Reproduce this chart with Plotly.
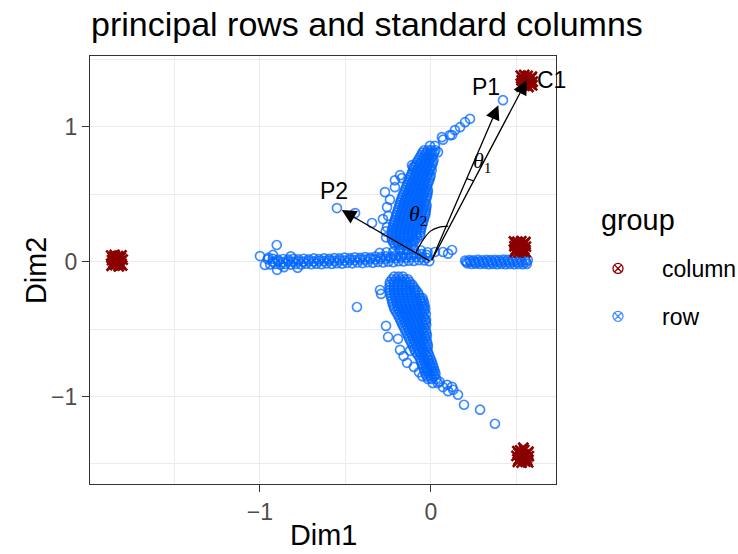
import plotly.graph_objects as go

# ---------------------------------------------------------------------------
# Row profiles (principal coordinates), grouped by the arm of the map
# ---------------------------------------------------------------------------
ROW_LEFT_ARM = [
    (-0.955, 0.018), (-0.925, 0.022), (-0.895, 0.015), (-0.865, 0.020), (-0.835, 0.016),
    (-0.805, 0.021), (-0.775, 0.017), (-0.745, 0.022), (-0.715, 0.018), (-0.685, 0.024),
    (-0.655, 0.020), (-0.625, 0.025), (-0.595, 0.021), (-0.565, 0.027), (-0.535, 0.024),
    (-0.505, 0.030), (-0.475, 0.026), (-0.445, 0.032), (-0.415, 0.028), (-0.385, 0.034),
    (-0.355, 0.031), (-0.325, 0.037), (-0.295, 0.034), (-0.265, 0.040), (-0.235, 0.038),
    (-0.205, 0.045), (-0.175, 0.043), (-0.145, 0.050), (-0.115, 0.052), (-0.085, 0.058),
    (-0.055, 0.056), (-0.025, 0.050),
    (-0.925, 0.000), (-0.895, 0.003), (-0.865, -0.002), (-0.835, 0.002), (-0.805, -0.001),
    (-0.775, 0.003), (-0.745, 0.000), (-0.715, 0.004), (-0.685, 0.002), (-0.655, 0.006),
    (-0.625, 0.004), (-0.595, 0.008), (-0.565, 0.006), (-0.535, 0.010), (-0.505, 0.009),
    (-0.475, 0.013), (-0.445, 0.012), (-0.415, 0.016), (-0.385, 0.015), (-0.355, 0.019),
    (-0.325, 0.018), (-0.295, 0.022), (-0.265, 0.022), (-0.235, 0.027), (-0.205, 0.026),
    (-0.175, 0.031), (-0.145, 0.030), (-0.115, 0.034), (-0.085, 0.036), (-0.055, 0.034),
    (-0.025, 0.028),
    (-0.940, -0.020), (-0.910, -0.016), (-0.880, -0.022), (-0.850, -0.017), (-0.820, -0.021),
    (-0.790, -0.016), (-0.760, -0.020), (-0.730, -0.015), (-0.700, -0.019), (-0.670, -0.014),
    (-0.640, -0.018), (-0.610, -0.012), (-0.580, -0.016), (-0.550, -0.011), (-0.520, -0.014),
    (-0.490, -0.008), (-0.460, -0.012), (-0.430, -0.006), (-0.400, -0.010), (-0.370, -0.004),
    (-0.340, -0.008), (-0.310, -0.002), (-0.280, -0.006), (-0.250, 0.000), (-0.220, -0.004),
    (-0.190, 0.004), (-0.160, 0.002), (-0.130, 0.008), (-0.100, 0.006), (-0.070, 0.012),
    (-0.040, 0.010), (-0.010, 0.004),
    (-0.300, 0.065), (-0.260, 0.070), (-0.220, 0.075), (-0.180, 0.080), (-0.140, 0.085),
    (-0.100, 0.090), (-0.060, 0.085), (-0.020, 0.070),
]

ROW_RIGHT_ARM = [
    (0.200, 0.008), (0.225, 0.012), (0.250, 0.010), (0.275, 0.013), (0.300, 0.011),
    (0.325, 0.014), (0.350, 0.012), (0.375, 0.014), (0.400, 0.012), (0.425, 0.015),
    (0.450, 0.013), (0.475, 0.015), (0.500, 0.013), (0.525, 0.016), (0.550, 0.014),
    (0.566, 0.012),
    (0.206, -0.002), (0.231, 0.000), (0.256, -0.003), (0.281, -0.001), (0.306, -0.003),
    (0.331, 0.000), (0.356, -0.002), (0.381, 0.000), (0.406, -0.002), (0.431, 0.000),
    (0.456, -0.002), (0.481, 0.000), (0.506, -0.002), (0.531, 0.000), (0.556, -0.002),
    (0.212, -0.012), (0.237, -0.016), (0.262, -0.014), (0.287, -0.017), (0.312, -0.015),
    (0.337, -0.018), (0.362, -0.016), (0.387, -0.018), (0.412, -0.016), (0.437, -0.019),
    (0.462, -0.017), (0.487, -0.019), (0.512, -0.017), (0.537, -0.019), (0.560, -0.016),
]

ROW_UPPER_ARM = [
    (-0.040, 0.827), (-0.018, 0.827), (0.004, 0.827), (0.026, 0.827),
    (-0.050, 0.809), (-0.027, 0.809), (-0.004, 0.809), (0.018, 0.809),
    (-0.058, 0.790), (-0.035, 0.790), (-0.012, 0.790), (0.011, 0.790),
    (-0.066, 0.772), (-0.043, 0.772), (-0.020, 0.772), (0.004, 0.772),
    (-0.076, 0.753), (-0.053, 0.753), (-0.030, 0.753), (-0.007, 0.753), (0.015, 0.753),
    (-0.083, 0.735), (-0.060, 0.735), (-0.036, 0.735), (-0.012, 0.735), (0.010, 0.735),
    (-0.090, 0.716), (-0.066, 0.716), (-0.042, 0.716), (-0.018, 0.716), (0.006, 0.716),
    (-0.098, 0.698), (-0.074, 0.698), (-0.050, 0.698), (-0.026, 0.698), (-0.002, 0.698),
    (-0.105, 0.679), (-0.082, 0.679), (-0.058, 0.679), (-0.034, 0.679), (-0.010, 0.679), (0.004, 0.679),
    (-0.111, 0.661), (-0.087, 0.661), (-0.063, 0.661), (-0.039, 0.661), (-0.015, 0.661),
    (-0.117, 0.642), (-0.093, 0.642), (-0.070, 0.642), (-0.046, 0.642), (-0.022, 0.642), (-0.002, 0.642),
    (-0.123, 0.624), (-0.099, 0.624), (-0.075, 0.624), (-0.051, 0.624), (-0.027, 0.624), (-0.006, 0.624),
    (-0.129, 0.605), (-0.105, 0.605), (-0.082, 0.605), (-0.058, 0.605), (-0.034, 0.605), (-0.010, 0.605),
    (-0.135, 0.587), (-0.111, 0.587), (-0.087, 0.587), (-0.063, 0.587), (-0.039, 0.587), (-0.016, 0.587),
    (-0.140, 0.568), (-0.117, 0.568), (-0.093, 0.568), (-0.070, 0.568), (-0.046, 0.568), (-0.022, 0.568),
    (-0.146, 0.550), (-0.122, 0.550), (-0.098, 0.550), (-0.074, 0.550), (-0.050, 0.550), (-0.026, 0.550),
    (-0.152, 0.531), (-0.128, 0.531), (-0.105, 0.531), (-0.082, 0.531), (-0.058, 0.531), (-0.034, 0.531),
    (-0.018, 0.531),
    (-0.158, 0.513), (-0.134, 0.513), (-0.110, 0.513), (-0.086, 0.513), (-0.062, 0.513), (-0.038, 0.513),
    (-0.020, 0.513),
    (-0.164, 0.494), (-0.140, 0.494), (-0.116, 0.494), (-0.092, 0.494), (-0.068, 0.494), (-0.044, 0.494),
    (-0.022, 0.494),
    (-0.170, 0.476), (-0.146, 0.476), (-0.122, 0.476), (-0.098, 0.476), (-0.074, 0.476), (-0.050, 0.476),
    (-0.026, 0.476),
    (-0.175, 0.457), (-0.151, 0.457), (-0.127, 0.457), (-0.103, 0.457), (-0.079, 0.457), (-0.055, 0.457),
    (-0.030, 0.457),
    (-0.180, 0.439), (-0.156, 0.439), (-0.132, 0.439), (-0.108, 0.439), (-0.084, 0.439), (-0.060, 0.439),
    (-0.036, 0.439),
    (-0.184, 0.420), (-0.160, 0.420), (-0.136, 0.420), (-0.112, 0.420), (-0.088, 0.420), (-0.064, 0.420),
    (-0.040, 0.420), (-0.026, 0.420),
    (-0.189, 0.402), (-0.165, 0.402), (-0.141, 0.402), (-0.117, 0.402), (-0.093, 0.402), (-0.069, 0.402),
    (-0.045, 0.402), (-0.028, 0.402),
    (-0.193, 0.383), (-0.169, 0.383), (-0.145, 0.383), (-0.121, 0.383), (-0.097, 0.383), (-0.073, 0.383),
    (-0.049, 0.383), (-0.030, 0.383),
    (-0.198, 0.365), (-0.174, 0.365), (-0.150, 0.365), (-0.126, 0.365), (-0.102, 0.365), (-0.078, 0.365),
    (-0.054, 0.365), (-0.032, 0.365),
    (-0.202, 0.346), (-0.178, 0.346), (-0.154, 0.346), (-0.130, 0.346), (-0.106, 0.346), (-0.082, 0.346),
    (-0.058, 0.346), (-0.034, 0.346),
    (-0.207, 0.328), (-0.183, 0.328), (-0.159, 0.328), (-0.135, 0.328), (-0.111, 0.328), (-0.087, 0.328),
    (-0.063, 0.328), (-0.040, 0.328),
    (-0.211, 0.309), (-0.187, 0.309), (-0.163, 0.309), (-0.139, 0.309), (-0.115, 0.309), (-0.091, 0.309),
    (-0.067, 0.309), (-0.043, 0.309),
    (-0.216, 0.290), (-0.192, 0.290), (-0.168, 0.290), (-0.144, 0.290), (-0.120, 0.290), (-0.096, 0.290),
    (-0.072, 0.290), (-0.048, 0.290),
    (-0.220, 0.272), (-0.196, 0.272), (-0.172, 0.272), (-0.148, 0.272), (-0.124, 0.272), (-0.100, 0.272),
    (-0.076, 0.272), (-0.052, 0.272),
    (-0.224, 0.253), (-0.200, 0.253), (-0.176, 0.253), (-0.152, 0.253), (-0.128, 0.253), (-0.104, 0.253),
    (-0.080, 0.253), (-0.056, 0.253),
    (-0.228, 0.235), (-0.204, 0.235), (-0.180, 0.235), (-0.156, 0.235), (-0.132, 0.235), (-0.108, 0.235),
    (-0.084, 0.235), (-0.060, 0.235),
    (-0.229, 0.216), (-0.205, 0.216), (-0.181, 0.216), (-0.157, 0.216), (-0.133, 0.216), (-0.109, 0.216),
    (-0.085, 0.216), (-0.062, 0.216),
    (-0.230, 0.198), (-0.206, 0.198), (-0.182, 0.198), (-0.158, 0.198), (-0.134, 0.198), (-0.110, 0.198),
    (-0.086, 0.198), (-0.064, 0.198),
    (-0.229, 0.180), (-0.205, 0.180), (-0.181, 0.180), (-0.157, 0.180), (-0.133, 0.180), (-0.109, 0.180),
    (-0.080, 0.180),
    (-0.228, 0.161), (-0.204, 0.161), (-0.180, 0.161), (-0.156, 0.161), (-0.132, 0.161), (-0.108, 0.161),
    (-0.094, 0.161),
    (-0.220, 0.143), (-0.196, 0.143), (-0.172, 0.143), (-0.148, 0.143), (-0.124, 0.143), (-0.102, 0.143),
    (-0.210, 0.125), (-0.186, 0.125), (-0.162, 0.125), (-0.138, 0.125), (-0.114, 0.125),
    (-0.185, 0.090), (-0.160, 0.090), (-0.135, 0.090),
]

ROW_LOWER_ARM = [
    (-0.215, -0.110), (-0.190, -0.110), (-0.165, -0.110),
    (-0.228, -0.130), (-0.204, -0.130), (-0.180, -0.130), (-0.156, -0.130), (-0.135, -0.130),
    (-0.240, -0.150), (-0.216, -0.150), (-0.192, -0.150), (-0.168, -0.150), (-0.144, -0.150), (-0.125, -0.150),
    (-0.241, -0.170), (-0.217, -0.170), (-0.193, -0.170), (-0.169, -0.170), (-0.145, -0.170), (-0.122, -0.170),
    (-0.110, -0.170),
    (-0.242, -0.190), (-0.218, -0.190), (-0.194, -0.190), (-0.170, -0.190), (-0.146, -0.190), (-0.122, -0.190),
    (-0.100, -0.190),
    (-0.241, -0.210), (-0.217, -0.210), (-0.193, -0.210), (-0.169, -0.210), (-0.145, -0.210), (-0.121, -0.210),
    (-0.098, -0.210), (-0.088, -0.210),
    (-0.240, -0.230), (-0.216, -0.230), (-0.192, -0.230), (-0.168, -0.230), (-0.144, -0.230), (-0.120, -0.230),
    (-0.096, -0.230), (-0.076, -0.230),
    (-0.236, -0.250), (-0.212, -0.250), (-0.188, -0.250), (-0.164, -0.250), (-0.140, -0.250), (-0.116, -0.250),
    (-0.092, -0.250), (-0.070, -0.250),
    (-0.232, -0.270), (-0.208, -0.270), (-0.184, -0.270), (-0.160, -0.270), (-0.136, -0.270), (-0.112, -0.270),
    (-0.088, -0.270), (-0.064, -0.270), (-0.050, -0.270),
    (-0.228, -0.290), (-0.204, -0.290), (-0.180, -0.290), (-0.156, -0.290), (-0.132, -0.290), (-0.108, -0.290),
    (-0.084, -0.290), (-0.060, -0.290), (-0.045, -0.290),
    (-0.224, -0.310), (-0.200, -0.310), (-0.176, -0.310), (-0.152, -0.310), (-0.128, -0.310), (-0.104, -0.310),
    (-0.080, -0.310), (-0.056, -0.310), (-0.040, -0.310),
    (-0.219, -0.330), (-0.195, -0.330), (-0.171, -0.330), (-0.147, -0.330), (-0.123, -0.330), (-0.099, -0.330),
    (-0.075, -0.330), (-0.051, -0.330), (-0.037, -0.330),
    (-0.214, -0.350), (-0.190, -0.350), (-0.166, -0.350), (-0.142, -0.350), (-0.118, -0.350), (-0.094, -0.350),
    (-0.070, -0.350), (-0.046, -0.350), (-0.034, -0.350),
    (-0.205, -0.370), (-0.181, -0.370), (-0.157, -0.370), (-0.133, -0.370), (-0.109, -0.370), (-0.085, -0.370),
    (-0.061, -0.370), (-0.040, -0.370),
    (-0.196, -0.390), (-0.172, -0.390), (-0.148, -0.390), (-0.124, -0.390), (-0.100, -0.390), (-0.076, -0.390),
    (-0.052, -0.390), (-0.030, -0.390),
    (-0.188, -0.410), (-0.164, -0.410), (-0.140, -0.410), (-0.116, -0.410), (-0.092, -0.410), (-0.068, -0.410),
    (-0.044, -0.410),
    (-0.180, -0.430), (-0.156, -0.430), (-0.132, -0.430), (-0.108, -0.430), (-0.084, -0.430), (-0.060, -0.430),
    (-0.036, -0.430), (-0.029, -0.430),
    (-0.173, -0.450), (-0.149, -0.450), (-0.125, -0.450), (-0.101, -0.450), (-0.077, -0.450), (-0.053, -0.450),
    (-0.030, -0.450),
    (-0.166, -0.470), (-0.142, -0.470), (-0.118, -0.470), (-0.094, -0.470), (-0.070, -0.470), (-0.046, -0.470),
    (-0.028, -0.470),
    (-0.158, -0.490), (-0.134, -0.490), (-0.110, -0.490), (-0.086, -0.490), (-0.062, -0.490), (-0.038, -0.490),
    (-0.150, -0.510), (-0.126, -0.510), (-0.102, -0.510), (-0.078, -0.510), (-0.054, -0.510), (-0.030, -0.510),
    (-0.142, -0.530), (-0.118, -0.530), (-0.094, -0.530), (-0.070, -0.530), (-0.046, -0.530), (-0.027, -0.530),
    (-0.134, -0.550), (-0.110, -0.550), (-0.086, -0.550), (-0.062, -0.550), (-0.038, -0.550), (-0.024, -0.550),
    (-0.127, -0.570), (-0.103, -0.570), (-0.079, -0.570), (-0.055, -0.570), (-0.031, -0.570),
    (-0.120, -0.590), (-0.096, -0.590), (-0.072, -0.590), (-0.048, -0.590), (-0.024, -0.590),
    (-0.112, -0.610), (-0.088, -0.610), (-0.064, -0.610), (-0.040, -0.610), (-0.020, -0.610),
    (-0.104, -0.630), (-0.080, -0.630), (-0.056, -0.630), (-0.032, -0.630), (-0.018, -0.630),
    (-0.097, -0.650), (-0.073, -0.650), (-0.049, -0.650), (-0.025, -0.650),
    (-0.090, -0.670), (-0.066, -0.670), (-0.042, -0.670), (-0.018, -0.670),
    (-0.078, -0.690), (-0.055, -0.690), (-0.032, -0.690), (-0.012, -0.690),
    (-0.066, -0.710), (-0.044, -0.710), (-0.022, -0.710), (-0.006, -0.710),
    (-0.061, -0.730), (-0.039, -0.730), (-0.017, -0.730), (0.000, -0.730),
    (-0.056, -0.750), (-0.034, -0.750), (-0.012, -0.750), (0.006, -0.750),
    (-0.050, -0.770), (-0.028, -0.770), (-0.006, -0.770), (0.011, -0.770),
    (-0.044, -0.790), (-0.022, -0.790), (0.000, -0.790), (0.016, -0.790),
    (-0.038, -0.810), (-0.016, -0.810), (0.006, -0.810), (0.021, -0.810),
    (-0.032, -0.830), (-0.010, -0.830), (0.012, -0.830), (0.026, -0.830),
    (-0.025, -0.850), (-0.003, -0.850), (0.020, -0.850),
    (-0.018, -0.870), (0.004, -0.870), (0.030, -0.870),
    (0.010, -0.900), (0.040, -0.900),
]

ROW_SCATTER = [
    # tip of the upper arm
    (0.041, 0.813), (0.064, 0.924), (0.111, 0.939), (0.140, 0.976), (0.170, 0.998),
    (0.199, 1.035), (0.228, 1.060), (0.123, 0.940), (0.070, 0.905), (0.023, 0.860),
    (-0.006, 0.860), (0.421, 1.198),
    # left fringe of the upper arm
    (-0.269, 0.516), (-0.211, 0.553), (-0.211, 0.604), (-0.181, 0.642), (-0.170, 0.620),
    (-0.105, 0.701), (-0.111, 0.716), (-0.257, 0.405), (-0.281, 0.316), (-0.345, 0.287),
    (-0.444, 0.361), (-0.257, 0.257), (-0.550, 0.398), (-0.240, 0.460), (-0.250, 0.340),
    (-0.265, 0.225), (-0.262, 0.180),
    # near the origin, right side
    (0.070, 0.072), (0.123, 0.087), (0.023, 0.072), (0.100, 0.060),
    # far end of the left arm
    (-1.000, 0.042), (-0.902, 0.124), (-0.971, -0.024), (-0.924, 0.050), (-0.900, -0.060),
    (-0.950, 0.030), (-0.860, -0.040), (-0.820, 0.040), (-0.780, -0.045),
    # tail of the lower arm
    (0.094, -0.913), (0.123, -0.928), (0.158, -0.987), (0.193, -1.061), (0.287, -1.098),
    (0.374, -1.202), (0.070, -0.930), (0.050, -0.890), (0.100, -0.960), (0.130, -0.950),
    # left fringe of the lower arm
    (-0.433, -0.336), (-0.292, -0.239), (-0.263, -0.476), (-0.251, -0.558), (-0.193, -0.572),
    (-0.181, -0.654), (-0.123, -0.661), (-0.298, -0.210), (-0.160, -0.700), (-0.140, -0.750),
    (-0.100, -0.780), (-0.070, -0.820), (-0.050, -0.850),
]

# ---------------------------------------------------------------------------
# Column vertices (standard coordinates), four tight clusters
# ---------------------------------------------------------------------------
COLUMN_POINTS = [
    (-1.870, 0.045), (-1.850, 0.050), (-1.830, 0.042), (-1.810, 0.047), (-1.865, 0.012),
    (-1.842, 0.018), (-1.822, 0.008), (-1.803, 0.015), (-1.868, -0.030), (-1.846, -0.025),
    (-1.826, -0.035), (-1.806, -0.028), (-1.855, -0.005), (-1.818, -0.010), (-1.838, 0.030),
    (-1.860, 0.030), (-1.815, 0.030), (-1.860, -0.018), (-1.815, -0.018), (-1.838, -0.012),
    (-1.838, 0.000), (-1.850, 0.035), (-1.826, -0.020),
    (0.525, 1.380), (0.545, 1.385), (0.565, 1.378), (0.590, 1.372), (0.530, 1.345),
    (0.552, 1.350), (0.575, 1.340), (0.595, 1.336), (0.528, 1.300), (0.548, 1.305),
    (0.570, 1.296), (0.592, 1.308), (0.540, 1.322), (0.582, 1.318), (0.560, 1.360),
    (0.535, 1.365), (0.585, 1.362), (0.535, 1.318), (0.585, 1.325), (0.560, 1.330),
    (0.560, 1.312), (0.548, 1.340), (0.572, 1.355),
    (0.485, 0.150), (0.505, 0.148), (0.528, 0.152), (0.552, 0.146), (0.488, 0.115),
    (0.510, 0.120), (0.532, 0.108), (0.555, 0.112), (0.490, 0.072), (0.512, 0.068),
    (0.535, 0.075), (0.553, 0.070), (0.500, 0.090), (0.542, 0.095), (0.520, 0.130),
    (0.495, 0.135), (0.545, 0.132), (0.495, 0.088), (0.546, 0.088), (0.520, 0.100),
    (0.520, 0.085), (0.508, 0.108), (0.532, 0.125),
    (0.505, -1.405), (0.522, -1.400), (0.545, -1.398), (0.570, -1.410), (0.500, -1.440),
    (0.525, -1.435), (0.548, -1.448), (0.572, -1.442), (0.508, -1.485), (0.530, -1.490),
    (0.552, -1.482), (0.568, -1.488), (0.515, -1.465), (0.560, -1.460), (0.540, -1.380),
    (0.512, -1.420), (0.562, -1.422), (0.512, -1.472), (0.562, -1.475), (0.538, -1.455),
    (0.538, -1.470), (0.528, -1.418), (0.550, -1.430),
]

# Highlighted vectors from the origin and their labels
VECTOR_NAMES = ["C1", "P1", "P2"]
VECTOR_END_X = [0.560, 0.394, -0.522]
VECTOR_END_Y = [1.346, 1.161, 0.383]
VECTOR_LABEL_X = [0.702, 0.322, -0.567]
VECTOR_LABEL_Y = [1.346, 1.294, 0.522]

# Angle marks between the vectors
ANGLE_LABELS = ["<i>θ</i><sub>1</sub>", "<i>θ</i><sub>2</sub>"]
ANGLE_LABEL_X = [0.304, -0.076]
ANGLE_LABEL_Y = [0.739, 0.346]
ARC1_X = [0.209, 0.229, 0.250]
ARC1_Y = [0.616, 0.608, 0.600]
ARC2_X = [-0.088, -0.046, -0.005, 0.045, 0.101]
ARC2_Y = [0.070, 0.162, 0.225, 0.255, 0.264]

X_RANGE = [-1.994, 0.731]
Y_RANGE = [-1.649, 1.526]

SANS = "Liberation Sans, Arial, Helvetica, sans-serif"
SERIF = "Liberation Serif, Times New Roman, serif"
ROW_COLOR = "rgba(0,102,255,0.75)"
COL_COLOR = "#8B0000"

rows = ROW_LEFT_ARM + ROW_RIGHT_ARM + ROW_UPPER_ARM + ROW_LOWER_ARM + ROW_SCATTER

fig = go.Figure()

# rows: open circles
fig.add_trace(go.Scatter(
    x=[p[0] for p in rows], y=[p[1] for p in rows],
    mode="markers", showlegend=False, hoverinfo="skip",
    marker=dict(symbol="circle-open", size=9, color=ROW_COLOR, line=dict(width=1.7, color=ROW_COLOR)),
))

# columns: crosses
fig.add_trace(go.Scatter(
    x=[p[0] for p in COLUMN_POINTS], y=[p[1] for p in COLUMN_POINTS],
    mode="markers", showlegend=False, hoverinfo="skip",
    marker=dict(symbol="x-thin-open", size=10, color=COL_COLOR, line=dict(width=2.6, color=COL_COLOR)),
))

# angle arcs
for ax_, ay_ in ((ARC1_X, ARC1_Y), (ARC2_X, ARC2_Y)):
    fig.add_trace(go.Scatter(
        x=ax_, y=ay_, mode="lines", showlegend=False, hoverinfo="skip",
        line=dict(color="black", width=1.2, shape="spline"),
    ))

# legend keys (combined circle + cross glyph)
for name, color in (("column", COL_COLOR), ("row", ROW_COLOR)):
    fig.add_trace(go.Scatter(
        x=[None], y=[None], mode="markers", name=name, legendgroup=name,
        marker=dict(symbol="circle-x-open", size=10, color=color, line=dict(width=1.3, color=color)),
    ))

annotations = []
for vx, vy in zip(VECTOR_END_X, VECTOR_END_Y):
    annotations.append(dict(
        x=vx, y=vy, ax=0, ay=0, xref="x", yref="y", axref="x", ayref="y",
        text="", showarrow=True, arrowhead=2, arrowsize=2.2, arrowwidth=1.3,
        arrowcolor="black", standoff=0,
    ))
for name, lx, ly in zip(VECTOR_NAMES, VECTOR_LABEL_X, VECTOR_LABEL_Y):
    annotations.append(dict(
        x=lx, y=ly, xref="x", yref="y", text=name, showarrow=False,
        font=dict(family=SANS, size=23, color="black"), xanchor="center", yanchor="middle",
    ))
for lab, lx, ly in zip(ANGLE_LABELS, ANGLE_LABEL_X, ANGLE_LABEL_Y):
    annotations.append(dict(
        x=lx, y=ly, xref="x", yref="y", text=lab, showarrow=False,
        font=dict(family=SERIF, size=22, color="black"), xanchor="center", yanchor="middle",
    ))

# axis titles and legend title
annotations += [
    dict(text="Dim1", x=0.5, y=-0.12, xref="paper", yref="paper", showarrow=False,
         font=dict(family=SANS, size=28.8, color="black"), xanchor="center", yanchor="middle"),
    dict(text="Dim2", x=-0.116, y=0.5, xref="paper", yref="paper", showarrow=False, textangle=-90,
         font=dict(family=SANS, size=28.8, color="black"), xanchor="center", yanchor="middle"),
    dict(text="group", x=1.0923, y=0.617, xref="paper", yref="paper", showarrow=False,
         font=dict(family=SANS, size=28.8, color="black"), xanchor="left", yanchor="middle"),
]

axis_common = dict(
    showgrid=True, gridcolor="#EBEBEB", gridwidth=1.4, zeroline=False,
    showline=True, mirror=True, linecolor="#333333", linewidth=1.4,
    ticks="outside", ticklen=7, tickwidth=1.3, tickcolor="#333333",
    tickfont=dict(family=SANS, size=23, color="#4D4D4D"),
    dtick=1, tick0=0,
    minor=dict(dtick=0.5, tick0=0, showgrid=True, gridcolor="#EBEBEB", gridwidth=0.7, ticks=""),
)

fig.update_xaxes(range=X_RANGE, **axis_common)
fig.update_yaxes(range=Y_RANGE, **axis_common)

fig.update_layout(
    width=738, height=554,
    margin=dict(l=90, r=182, t=56, b=70),
    paper_bgcolor="white", plot_bgcolor="white",
    title=dict(text="principal rows and standard columns", x=91 / 738, xanchor="left",
               y=1 - 24 / 554, yanchor="middle", xref="container", yref="container",
               font=dict(family=SANS, size=34, color="black")),
    legend=dict(x=574 / 738, y=1 - 247 / 554, xref="container", yref="container",
                xanchor="left", yanchor="top",
                font=dict(family=SANS, size=23, color="black"),
                itemwidth=78, tracegroupgap=15, bgcolor="rgba(0,0,0,0)"),
    annotations=annotations,
)

fig.write_html("out.html")
